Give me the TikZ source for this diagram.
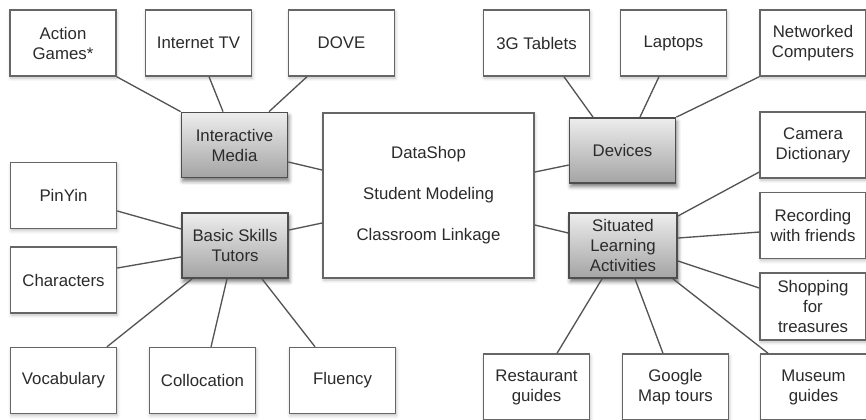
\documentclass[tikz,border=0pt]{standalone}
\usepackage{fontspec}
\setmainfont{Liberation Sans}
\usetikzlibrary{shadows.blur}
\definecolor{boxline}{HTML}{666666}
\definecolor{hubline}{HTML}{4E4E4E}
\definecolor{linkline}{HTML}{545454}
\definecolor{hubtop}{HTML}{EDEDED}
\definecolor{hubbot}{HTML}{A4A4A4}
\definecolor{txt}{HTML}{2B2B2B}
\tikzset{
  leaf/.style={draw=boxline, line width=1.1pt, fill=white, text=txt,
    minimum width=79.5pt, minimum height=49.5pt, inner sep=0pt, align=center,
    font=\fontsize{12.6}{15}\selectfont,
    blur shadow={shadow xshift=0.6pt, shadow yshift=-1.6pt, shadow blur radius=2.5pt, shadow opacity=25}},
  hub/.style={draw=hubline, line width=1.3pt, top color=hubtop, bottom color=hubbot, text=txt,
    minimum width=79.5pt, minimum height=48.75pt, inner sep=0pt, align=center,
    font=\fontsize{12.6}{15}\selectfont,
    blur shadow={shadow xshift=1pt, shadow yshift=-2.6pt, shadow blur radius=3pt, shadow opacity=55}},
  core/.style={draw=boxline, line width=1.1pt, fill=white, text=txt,
    minimum width=158.25pt, minimum height=123.75pt, inner sep=0pt, align=center,
    font=\fontsize{12.6}{30.75}\selectfont,
    blur shadow={shadow xshift=0.6pt, shadow yshift=-1.6pt, shadow blur radius=2.5pt, shadow opacity=25}},
  link/.style={draw=linkline, line width=1pt}
}
\begin{document}
\begin{tikzpicture}[x=0.75pt,y=-0.75pt]
\useasboundingbox (0,0) rectangle (866,419);

% central box
\node[core] (core) at (428.5,195.5) {DataShop\\Student Modeling\\Classroom Linkage};

% hubs
\node[hub] (im)  at (234.5,145)   {Interactive\\Media};
\node[hub] (bst) at (235,245.5)   {Basic Skills\\Tutors};
\node[hub] (dev) at (622.5,150.5) {Devices};
\node[hub, minimum width=81pt] (sla) at (623,245.5) {Situated\\Learning\\Activities};

% leaves: top row
\node[leaf] (act)  at (63,43)    {Action\\Games*};
\node[leaf] (itv)  at (198.5,43) {Internet TV};
\node[leaf] (dove) at (341.5,43) {DOVE};
\node[leaf] (tab)  at (536.5,43) {3G Tablets};
\node[leaf] (lap)  at (673.5,43) {Laptops};
\node[leaf] (net)  at (813,43)   {Networked\\Computers};

% leaves: left column
\node[leaf] (pin) at (63.5,195.5) {PinYin};
\node[leaf] (chr) at (63.5,280)   {Characters};

% leaves: bottom left
\node[leaf] (voc) at (63.5,380.5)  {Vocabulary};
\node[leaf] (col) at (202.5,380.5) {Collocation};
\node[leaf] (flu) at (342.5,380.5) {Fluency};

% leaves: right column
\node[leaf] (cam)  at (813,145)   {Camera\\Dictionary};
\node[leaf] (rec)  at (813,225.5) {Recording\\with friends};
\node[leaf, minimum height=50.25pt] (shop) at (813,306.5) {Shopping\\for\\treasures};

% leaves: bottom right
\node[leaf] (res) at (536.5,387) {Restaurant\\guides};
\node[leaf] (goo) at (675.5,387) {Google\\Map tours};
\node[leaf] (mus) at (813.5,387) {Museum\\guides};

% connectors
\draw[link] (act.south east) -- (im.north west);
\draw[link] ([xshift=7.9pt]itv.south) -- ([xshift=-8.6pt]im.north);
\draw[link] ([xshift=-25.9pt]dove.south) -- ([xshift=25.9pt]im.north);
\draw[link] ([yshift=-12.75pt]im.east) -- ([yshift=19.1pt]core.west);
\draw[link] ([yshift=11.6pt]bst.east) -- ([yshift=-20.6pt]core.west);
\draw[link] ([yshift=-11.6pt]pin.east) -- ([yshift=12.4pt]bst.west);
\draw[link] ([yshift=9pt]chr.east) -- ([yshift=-8.6pt]bst.west);
\draw[link] ([xshift=-32.25pt]bst.south) -- ([xshift=32.6pt]voc.north);
\draw[link] ([xshift=-6pt]bst.south) -- ([xshift=6.4pt]col.north);
\draw[link] ([xshift=20.25pt]bst.south) -- ([xshift=-20.6pt]flu.north);

\draw[link] ([yshift=17.6pt]core.east) -- ([yshift=-10.9pt]dev.west);
\draw[link] ([yshift=-22.1pt]core.east) -- ([yshift=9.4pt]sla.west);
\draw[link] ([xshift=20.6pt]tab.south) -- ([xshift=-22.1pt]dev.north);
\draw[link] ([xshift=-10.9pt]lap.south) -- ([xshift=13.1pt]dev.north);
\draw[link] (net.south west) -- (dev.north east);
\draw[link] ([yshift=22.1pt]sla.east) -- ([yshift=-20.25pt]cam.west);
\draw[link] ([yshift=5.6pt]sla.east) -- ([yshift=-4.9pt]rec.west);
\draw[link] ([yshift=-11.6pt]sla.east) -- ([yshift=13.9pt]shop.west);
\draw[link] ([xshift=-15.75pt]sla.south) -- ([xshift=15.4pt]res.north);
\draw[link] ([xshift=9pt]sla.south) -- ([xshift=-9.4pt]goo.north);
\draw[link] ([xshift=37.5pt]sla.south) -- ([xshift=-34.1pt]mus.north);
\end{tikzpicture}
\end{document}
